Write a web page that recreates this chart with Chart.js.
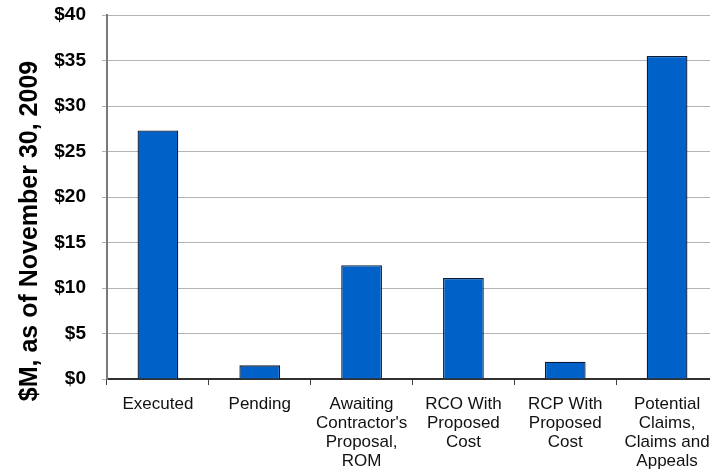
<!DOCTYPE html>
<html>
  <head>
    <title>Change Orders by Status</title>
    <script src="https://cdn.jsdelivr.net/npm/chart.js"></script>
    <style>
      html, body { margin: 0; padding: 0; background: #fff; overflow: hidden; }
      #wrap { position: relative; width: 720px; height: 474px; }
    </style>
  </head>
  <body>
    <div id="wrap">
      <canvas id="statusChart"></canvas>
    </div>
    <script>
  // category labels (one entry per line)
  const categories = [
    ["Executed"],
    ["Pending"],
    ["Awaiting", "Contractor's", "Proposal,", "ROM"],
    ["RCO With", "Proposed", "Cost"],
    ["RCP With", "Proposed", "Cost"],
    ["Potential", "Claims,", "Claims and", "Appeals"]
  ];
  // $M values
  const amounts = [27.3, 1.5, 12.5, 11.1, 1.9, 35.5];
  const yTicks = [0, 5, 10, 15, 20, 25, 30, 35, 40];
  const yTitle = "$M, as of November 30, 2009";

  const FONT = "'Liberation Sans', Arial, sans-serif";

  // rotated axis title, placed like the original (below the plot bottom)
  const sideTitle = {
    id: "sideTitle",
    afterDraw(chart) {
      const ctx = chart.ctx;
      ctx.save();
      ctx.translate(37, 231);
      ctx.rotate(-Math.PI / 2);
      ctx.font = "bold 25px " + FONT;
      ctx.fillStyle = "#000";
      ctx.textAlign = "center";
      ctx.textBaseline = "alphabetic";
      ctx.fillText(yTitle, 0, 0);
      ctx.restore();
    }
  };

  new Chart(document.getElementById("statusChart"), {
    type: "bar",
    data: {
      labels: categories,
      datasets: [{
        data: amounts,
        backgroundColor: "#0062C9",
        borderColor: "#0b1b33",
        borderWidth: 1.3,
        categoryPercentage: 1,
        barPercentage: 0.4
      }]
    },
    options: {
      responsive: true,
      maintainAspectRatio: false,
      animation: false,
      layout: { padding: { top: 15, right: 2, left: 0, bottom: 0 } },
      plugins: {
        legend: { display: false },
        tooltip: { enabled: false }
      },
      scales: {
        x: {
          grid: {
            offset: true,
            drawOnChartArea: false,
            drawTicks: true,
            tickLength: 6,
            color: "#404040"
          },
          border: { color: "#303030", width: 2 },
          ticks: {
            color: "#111",
            font: { family: FONT, size: 17, lineHeight: 1.12 },
            maxRotation: 0,
            autoSkip: false,
            padding: 10
          },
          afterFit(scale) { scale.height = 474 - 379; }
        },
        y: {
          min: 0,
          max: 40,
          afterBuildTicks(scale) { scale.ticks = yTicks.map(v => ({ value: v })); },
          grid: {
            color: "#b4b4b4",
            lineWidth: 1,
            tickLength: 5,
            drawTicks: true
          },
          border: { color: "#7a7a7a", width: 2 },
          ticks: {
            color: "#000",
            font: { family: FONT, size: 19, weight: "bold" },
            padding: 16,
            callback: v => "$" + v
          },
          afterFit(scale) {
            scale.width = 107;
            scale.paddingTop = 0;
            scale.paddingBottom = 0;
          }
        }
      }
    },
    plugins: [sideTitle]
  });
    </script>
  </body>
</html>
